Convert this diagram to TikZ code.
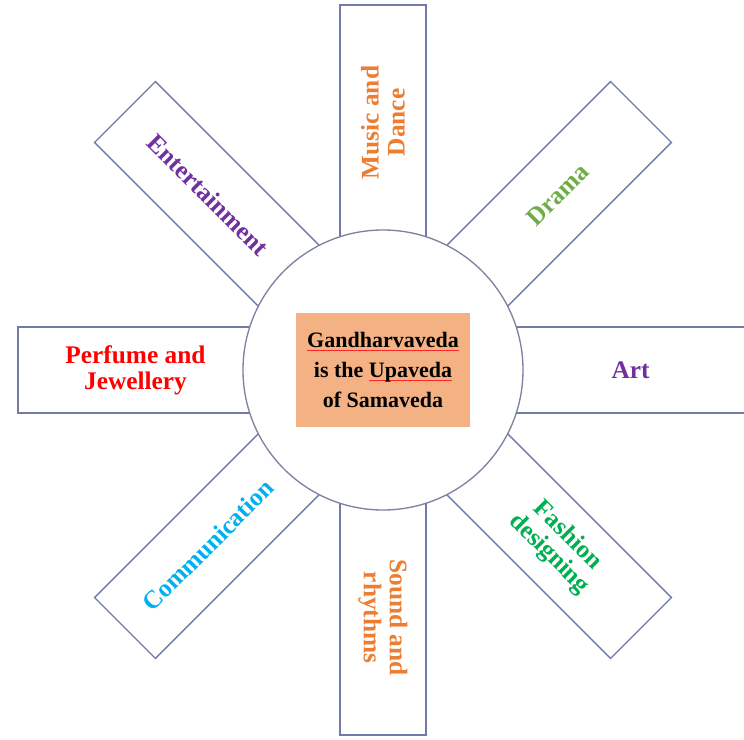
\documentclass[tikz,border=0pt]{standalone}
\usepackage{fontspec}
\setmainfont{Liberation Serif}
\usepackage{xcolor}
\usepackage{tikz}
\definecolor{spokeline}{RGB}{112,122,168}
\definecolor{hubline}{RGB}{125,130,160}
\definecolor{boxfill}{RGB}{244,177,131}
\definecolor{musicorange}{RGB}{237,125,49}
\definecolor{dramagreen}{RGB}{112,173,71}
\definecolor{artpurple}{RGB}{112,48,160}
\definecolor{fashiongreen}{RGB}{0,176,80}
\definecolor{commblue}{RGB}{0,176,240}
\definecolor{perfumered}{RGB}{255,0,0}
\newsavebox{\markbox}
\newcommand{\spellmark}[1]{\sbox{\markbox}{#1}\rlap{\textcolor{red!85}{\rule[-2.5pt]{\wd\markbox}{0.6pt}}}\usebox{\markbox}}

\begin{document}
\begin{tikzpicture}[x=0.75pt, y=0.75pt,
  spoke/.style={draw=spokeline, line width=1pt, fill=white, minimum width=176pt,
    minimum height=64.5pt, inner sep=0pt, align=center,
    font=\bfseries\fontsize{19}{19.5}\selectfont},
  hub/.style={circle, draw=hubline, line width=1pt, fill=white, minimum size=210pt, inner sep=0pt},
  core/.style={fill=boxfill, minimum width=131pt, minimum height=85.5pt, inner sep=0pt,
    align=center, font=\bfseries\fontsize{16.5}{22.5}\selectfont}]
\useasboundingbox (-383,-370) rectangle (361,370);
\node[spoke, rotate=90, text=musicorange] (music) at (90:247.5) {Music and\\Dance};
\node[spoke, rotate=45, text=dramagreen] (drama) at (45:247.5) {Drama};
\node[spoke, text=artpurple] (art) at (0:247.5) {Art};
\node[spoke, rotate=-45, text=fashiongreen] (fashion) at (-45:247.5) {Fashion\\designing};
\node[spoke, rotate=-90, text=musicorange] (sound) at (-90:247.5) {Sound and\\rhythms};
\node[spoke, rotate=45, text=commblue] (comm) at (-135:247.5) {Communication};
\node[spoke, text=perfumered] (perfume) at (180:247.5) {Perfume and\\Jewellery};
\node[spoke, rotate=-45, text=artpurple] (enter) at (135:247.5) {Entertainment};
\node[hub] (hub) at (0,0) {};
\node[core] (veda) at (hub.center) {\spellmark{Gandharvaveda}\\is the \spellmark{Upaveda}\\of Samaveda};
\end{tikzpicture}
\end{document}
